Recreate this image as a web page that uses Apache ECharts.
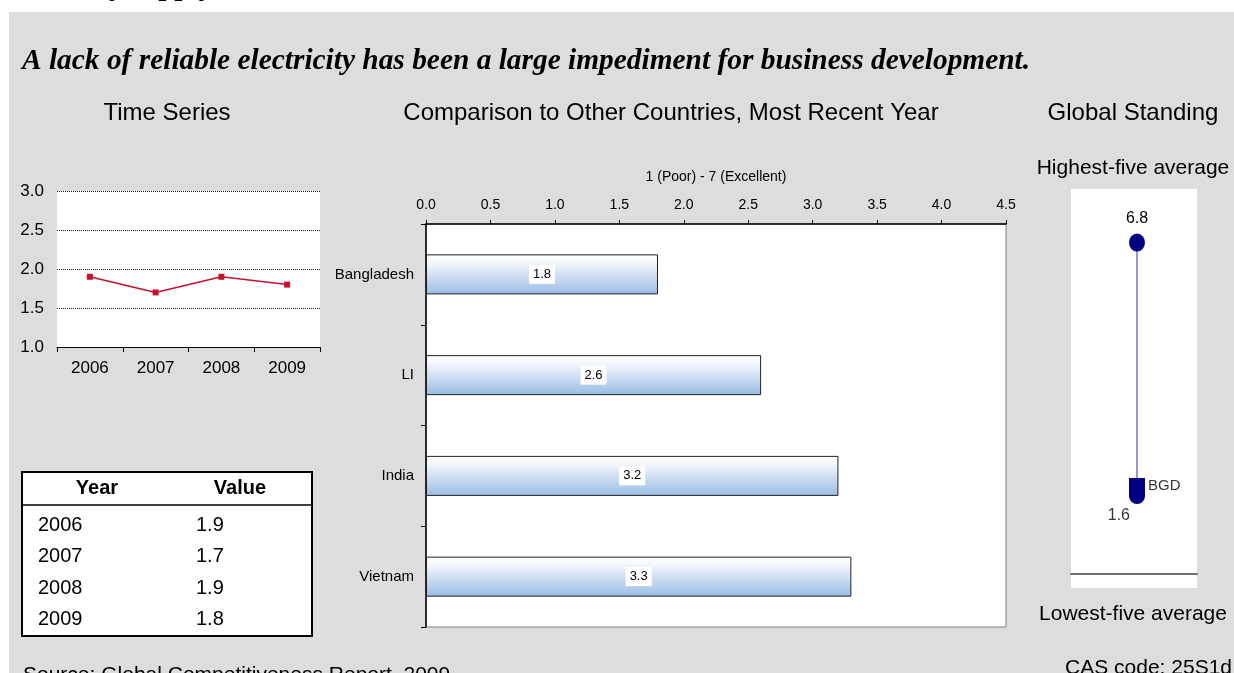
<!DOCTYPE html>
<html>
<head>
<meta charset="utf-8">
<script src="https://cdn.jsdelivr.net/npm/echarts@6/dist/echarts.min.js"></script>
<style>
  html, body { margin: 0; padding: 0; background: #fff; }
  #chart { width: 1234px; height: 673px; }
</style>
</head>
<body>
<div id="chart"></div>
<script>
// time series
const years = ['2006', '2007', '2008', '2009']
const yearValues = [1.9, 1.7, 1.9, 1.8]
// comparison
const countries = ['Bangladesh', 'LI', 'India', 'Vietnam']
const countryScores = [1.8, 2.6, 3.2, 3.3]
// global standing
const highestFive = 6.8
const countryValue = 1.6
const countryCode = 'BGD'

const SANS = '"Liberation Sans", Arial, sans-serif'
const SERIF = '"Liberation Serif", "Times New Roman", serif'

function txt(text, x, y, size, opts) {
  opts = opts || {}
  return {
    type: 'text',
    x: x,
    y: y,
    z: 10,
    style: {
      text: text,
      font: (opts.weight || '') + ' ' + size + 'px ' + (opts.family || SANS),
      fill: '#000',
      align: opts.align || 'left',
      verticalAlign: 'middle'
    }
  }
}

// table built from the time series arrays
const table = [
  { type: 'rect', shape: { x: 22, y: 472, width: 290, height: 164 }, style: { fill: '#fff', stroke: '#000', lineWidth: 2 }, z: 5 },
  { type: 'line', shape: { x1: 22, y1: 505, x2: 312, y2: 505 }, style: { stroke: '#000', lineWidth: 1.5 }, z: 6 },
  txt('Year', 97, 488, 20, { weight: 'bold', align: 'center' }),
  txt('Value', 240, 488, 20, { weight: 'bold', align: 'center' })
]
years.forEach((y, i) => {
  table.push(txt(y, 38, 525 + i * 31.5, 20))
  table.push(txt(yearValues[i].toFixed(1), 196, 525 + i * 31.5, 20))
})

const chart = echarts.init(document.getElementById('chart'), null, { renderer: 'canvas' })
chart.setOption({
  backgroundColor: '#fff',
  animation: false,
  textStyle: { fontFamily: SANS },
  graphic: [
    { type: 'rect', shape: { x: 9, y: 12, width: 1225, height: 661 }, style: { fill: '#dddddd' }, z: -10 },
    { type: 'rect', shape: { x: 1071, y: 189, width: 126, height: 399 }, style: { fill: '#fff' }, z: -5 },
    txt('Electricity supply', 213, -12, 29, { weight: 'bold', family: SERIF, align: 'right' }),
    txt('A lack of reliable electricity has been a large impediment for business development.', 22, 61, 29.4, { weight: 'italic bold', family: SERIF }),
    txt('Time Series', 167, 113, 24, { align: 'center' }),
    txt('Comparison to Other Countries, Most Recent Year', 671, 113, 24, { align: 'center' }),
    txt('Global Standing', 1133, 113, 24, { align: 'center' }),
    txt('Highest-five average', 1133, 168, 21, { align: 'center' }),
    txt('Lowest-five average', 1133, 614, 21, { align: 'center' }),
    txt('Source: Global Competitiveness Report, 2009', 23, 675, 21),
    txt('CAS code: 25S1d', 1232, 668, 21, { align: 'right' })
  ].concat(table),
  grid: [
    { left: 57, top: 191, width: 263, height: 156, show: true, backgroundColor: '#fff', borderWidth: 0 },
    { left: 426, top: 224, width: 580, height: 403, show: true, backgroundColor: '#fff', borderColor: '#808080', borderWidth: 1 },
    { left: 1071, top: 189, width: 126, height: 385, show: false }
  ],
  xAxis: [
    {
      gridIndex: 0,
      type: 'category',
      data: years,
      boundaryGap: true,
      axisLine: { lineStyle: { color: '#000', width: 1 } },
      axisTick: { show: true, length: 5, lineStyle: { color: '#000' } },
      axisLabel: { color: '#000', fontSize: 17, margin: 13 }
    },
    {
      gridIndex: 1,
      type: 'value',
      position: 'top',
      min: 0,
      max: 4.5,
      interval: 0.5,
      name: '1 (Poor) - 7 (Excellent)',
      nameLocation: 'middle',
      nameGap: 40,
      nameTextStyle: { color: '#000', fontSize: 14 },
      axisLine: { show: true, lineStyle: { color: '#000', width: 1.5 } },
      axisTick: { show: true, length: 4, lineStyle: { color: '#000' } },
      axisLabel: { color: '#000', fontSize: 14, margin: 12, formatter: v => v.toFixed(1) },
      splitLine: { show: false }
    },
    {
      gridIndex: 2,
      type: 'value',
      min: -1.1,
      max: 1,
      axisLine: { show: true, lineStyle: { color: '#707070', width: 2 } },
      axisTick: { show: false },
      axisLabel: { show: false },
      splitLine: { show: false }
    }
  ],
  yAxis: [
    {
      gridIndex: 0,
      type: 'value',
      min: 1,
      max: 3,
      interval: 0.5,
      axisLine: { show: false },
      axisTick: { show: false },
      axisLabel: { color: '#000', fontSize: 17, margin: 13, formatter: v => v.toFixed(1) },
      splitLine: { show: true, lineStyle: { type: 'dotted', color: '#222', width: 1 } }
    },
    {
      gridIndex: 1,
      type: 'category',
      data: countries,
      inverse: true,
      axisLine: { show: true, lineStyle: { color: '#000', width: 1.5 } },
      axisTick: { show: true, length: 5, lineStyle: { color: '#000' } },
      axisLabel: { color: '#000', fontSize: 15, margin: 12 }
    },
    { gridIndex: 2, type: 'value', min: 0, max: 7.9, show: false }
  ],
  series: [
    {
      type: 'line',
      xAxisIndex: 0,
      yAxisIndex: 0,
      data: yearValues,
      symbol: 'rect',
      symbolSize: 6,
      itemStyle: { color: '#c8102e' },
      lineStyle: { color: '#c8102e', width: 1.5 }
    },
    {
      type: 'bar',
      xAxisIndex: 1,
      yAxisIndex: 1,
      data: countryScores,
      barWidth: 40,
      itemStyle: {
        color: new echarts.graphic.LinearGradient(0, 0, 0, 1, [
          { offset: 0, color: '#ffffff' },
          { offset: 0.2, color: '#f4f7fc' },
          { offset: 1, color: '#9bbce5' }
        ]),
        borderColor: '#222',
        borderWidth: 1
      },
      label: {
        show: true,
        position: 'inside',
        color: '#000',
        fontSize: 13,
        backgroundColor: '#fff',
        padding: [3, 4, 3, 4],
        formatter: p => p.value.toFixed(1)
      }
    },
    {
      type: 'line',
      xAxisIndex: 2,
      yAxisIndex: 2,
      lineStyle: { color: '#7474b8', width: 1.5 },
      itemStyle: { color: '#000080' },
      data: [
        {
          value: [0, highestFive],
          symbol: 'circle',
          symbolSize: [16, 18],
          label: { show: true, position: 'top', distance: 7, color: '#000', fontSize: 16, formatter: highestFive.toFixed(1) }
        },
        {
          value: [0, countryValue],
          symbol: 'path://M0,0 L16,0 L16,18 A8,8 0 0 1 0,18 Z',
          symbolSize: [16, 26],
          symbolOffset: [0, -5]
        }
      ]
    },
    {
      type: 'scatter',
      xAxisIndex: 2,
      yAxisIndex: 2,
      symbolSize: 0,
      silent: true,
      data: [
        { value: [0, countryValue], label: { show: true, position: 'left', distance: 7, offset: [0, 20], color: '#000', fontSize: 16, formatter: countryValue.toFixed(1) } },
        { value: [0, countryValue], label: { show: true, position: 'right', distance: 11, offset: [0, -10], color: '#000', fontSize: 15, formatter: countryCode } }
      ]
    }
  ]
})
</script>
</body>
</html>
